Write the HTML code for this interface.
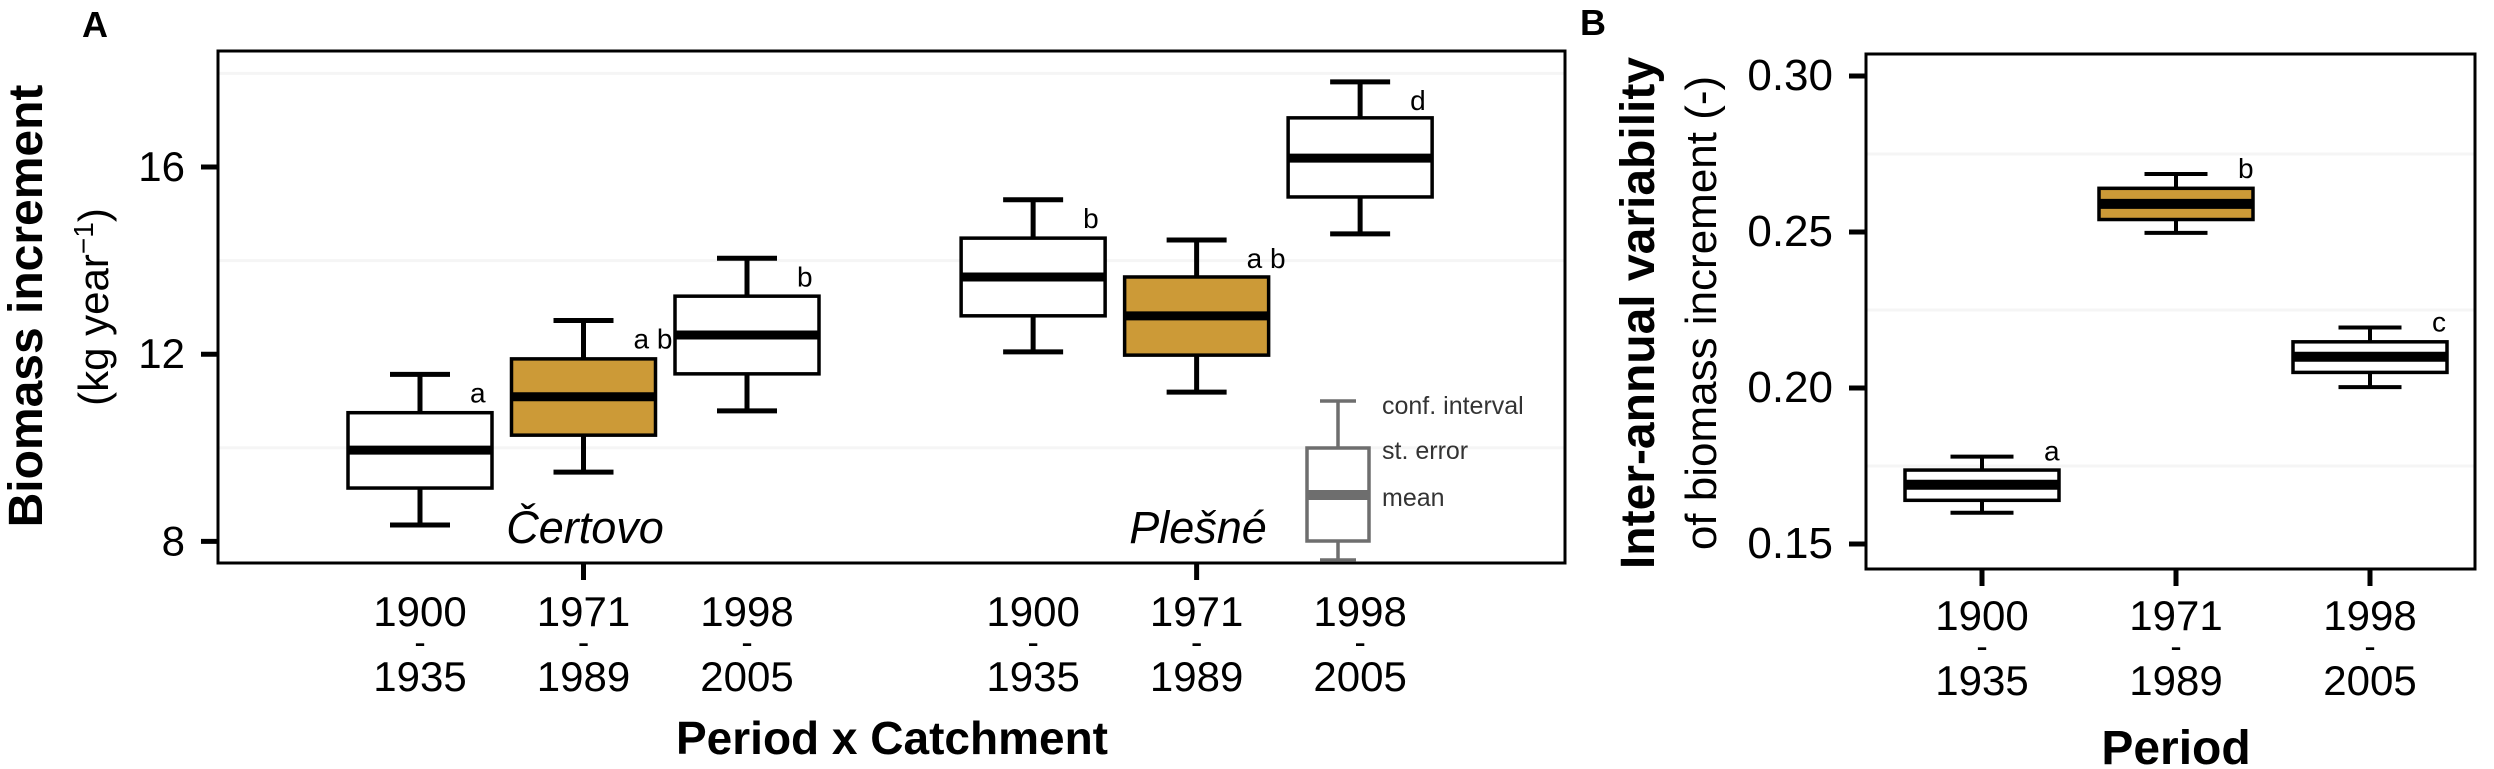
<!DOCTYPE html>
<html><head><meta charset="utf-8"><style>
html,body{margin:0;padding:0;background:#fff;}
svg{display:block;font-family:"Liberation Sans",sans-serif;}
</style></head><body>
<svg id="fig" width="2494" height="769" viewBox="0 0 2494 769" xmlns="http://www.w3.org/2000/svg">
<g id="pa"></g>
<g id="pb"></g>
</svg>
<script>
// Panel A data
const catsA = ["Čertovo 1900-1935","Čertovo 1971-1989","Čertovo 1998-2005","Plešné 1900-1935","Plešné 1971-1989","Plešné 1998-2005"];
const posA = [1, 2, 3, 4.75, 5.75, 6.75];
const loA = [8.35, 9.48, 10.79, 12.05, 11.19, 14.57];
const q1A = [9.14, 10.27, 11.58, 12.82, 11.98, 15.36];
const medA = [9.95, 11.09, 12.41, 13.65, 12.82, 16.19];
const q3A = [10.75, 11.9, 13.24, 14.48, 13.65, 17.05];
const hiA = [11.57, 12.72, 14.05, 15.3, 14.44, 17.82];
const letA = ["a","a b","b","b","a b","d"];
const goldA = [false,true,false,false,true,false];
const yearTopA = ["1900","1971","1998","1900","1971","1998"];
const yearBotA = ["1935","1989","2005","1935","1989","2005"];
const ticksA = [8, 12, 16];
const gridA = [10, 14, 18];
// Panel B data
const catsB = ["1900-1935","1971-1989","1998-2005"];
const loB = [0.160, 0.2497, 0.2003];
const q1B = [0.164, 0.254, 0.205];
const medB = [0.169, 0.259, 0.210];
const q3B = [0.1737, 0.264, 0.2148];
const hiB = [0.178, 0.2686, 0.2194];
const letB = ["a","b","c"];
const goldB = [false,true,false];
const yearTopB = ["1900","1971","1998"];
const yearBotB = ["1935","1989","2005"];
const ticksB = [0.15, 0.20, 0.25, 0.30];
const gridB = [0.175, 0.225, 0.275];

const NS = "http://www.w3.org/2000/svg";
function mk(parent, tag, attrs, text){
  const e = document.createElementNS(NS, tag);
  for (const k in attrs) e.setAttribute(k, attrs[k]);
  if (text !== undefined) e.textContent = text;
  parent.appendChild(e);
  return e;
}
const GOLD = "#cc9a37";

function drawPanel(g, o){
  o.grid.forEach(v=>{
    const l = mk(g,"line",{x1:o.x0,x2:o.x1,y1:o.y(v),y2:o.y(v),stroke:"#f5f5f5","stroke-width":3});
    
    
  });
  o.pos.forEach((p,i)=>{
    const cx = o.x(p);
    const bg = mk(g,"g",{});
    
    
    const hw = o.bw/2, cw = o.cw/2;
    mk(bg,"line",{x1:cx,x2:cx,y1:o.y(o.hi[i]),y2:o.y(o.q3[i]),stroke:"#000","stroke-width":o.ww});
    mk(bg,"line",{x1:cx,x2:cx,y1:o.y(o.q1[i]),y2:o.y(o.lo[i]),stroke:"#000","stroke-width":o.ww});
    mk(bg,"line",{x1:cx-cw,x2:cx+cw,y1:o.y(o.hi[i]),y2:o.y(o.hi[i]),stroke:"#000","stroke-width":o.ww});
    mk(bg,"line",{x1:cx-cw,x2:cx+cw,y1:o.y(o.lo[i]),y2:o.y(o.lo[i]),stroke:"#000","stroke-width":o.ww});
    mk(bg,"rect",{x:cx-hw,y:o.y(o.q3[i]),width:o.bw,height:o.y(o.q1[i])-o.y(o.q3[i]),fill:o.gold[i]?GOLD:"#fff",stroke:"#000","stroke-width":3.5});
    mk(bg,"line",{x1:cx-hw,x2:cx+hw,y1:o.y(o.med[i]),y2:o.y(o.med[i]),stroke:"#000","stroke-width":o.mw});
    const t = mk(g,"text",{x:cx+o.lx,y:o.y(o.hi[i])+o.ly,"font-size":28,fill:"#000"},o.let[i]);
    
    
    const xl = mk(g,"g",{"font-size":42,"text-anchor":"middle"});
    
    
    mk(xl,"text",{x:cx,y:o.x1y},o.yt[i]);
    mk(xl,"text",{x:cx,y:o.x1y+28,"font-size":34},"-");
    mk(xl,"text",{x:cx,y:o.x1y+65},o.yb[i]);
  });
  const fr = mk(g,"rect",{x:o.x0,y:o.y0,width:o.x1-o.x0,height:o.y1-o.y0,fill:"none",stroke:"#000","stroke-width":3});
  
  
  o.ticks.forEach(v=>{
    const tk = mk(g,"line",{x1:o.x0-17,x2:o.x0,y1:o.y(v),y2:o.y(v),stroke:"#000","stroke-width":5});
    
    
    const tl = mk(g,"text",{x:o.x0-33,y:o.y(v)+14,"font-size":o.tfs,"text-anchor":"end"},o.fmt(v));
    
    
  });
  o.xt.forEach(p=>{
    const tk = mk(g,"line",{x1:o.x(p),x2:o.x(p),y1:o.y1,y2:o.y1+17,stroke:"#000","stroke-width":5});
    
    
  });
}

const ga = document.getElementById('pa');
const yA = v => 167 + (16 - v) * 46.8;
const xA = p => 420 + (p - 1) * 163.5;
drawPanel(ga,{x0:218,x1:1565,y0:51,y1:563,y:yA,x:xA,pos:posA,cats:catsA,lo:loA,q1:q1A,med:medA,q3:q3A,hi:hiA,let:letA,gold:goldA,
  yt:yearTopA,yb:yearBotA,ticks:ticksA,grid:gridA,bw:144,cw:60,ww:5,mw:9,lx:50,ly:28,x1y:626,tfs:42,fmt:v=>String(v),xt:[2,5.75]});
const gb = document.getElementById('pb');
const yB = v => 76 + (0.30 - v) * 3120;
const xB = p => 1982 + (p - 1) * 194;
drawPanel(gb,{x0:1866,x1:2475,y0:54,y1:569,y:yB,x:xB,pos:[1,2,3],cats:catsB,lo:loB,q1:q1B,med:medB,q3:q3B,hi:hiB,let:letB,gold:goldB,
  yt:yearTopB,yb:yearBotB,ticks:ticksB,grid:gridB,bw:154,cw:63,ww:4,mw:10,lx:62,ly:4,x1y:630,tfs:44,fmt:v=>v.toFixed(2),xt:[1,2,3]});
</script>
<svg width="2494" height="769" style="position:absolute;left:0;top:0" xmlns="http://www.w3.org/2000/svg" font-family="Liberation Sans, sans-serif">
<text x="82" y="37" font-size="36" font-weight="bold">A</text>
<text x="1580" y="35" font-size="36" font-weight="bold">B</text>
<text transform="translate(42,306) rotate(-90)" text-anchor="middle" font-size="48" font-weight="bold">Biomass increment</text>
<text transform="translate(108,307) rotate(-90)" text-anchor="middle" font-size="42">(kg year<tspan baseline-shift="super" font-size="28">−1</tspan>)</text>
<text x="892" y="754" text-anchor="middle" font-size="46" font-weight="bold">Period x Catchment</text>
<text x="585" y="543" text-anchor="middle" font-size="45" font-style="italic">Čertovo</text>
<text x="1198" y="543" text-anchor="middle" font-size="45" font-style="italic">Plešné</text>
<g stroke="#6e6e6e">
<line x1="1338" x2="1338" y1="401" y2="448" stroke-width="3.5"/>
<line x1="1338" x2="1338" y1="541" y2="560" stroke-width="3.5"/>
<line x1="1320" x2="1356" y1="401" y2="401" stroke-width="3.5"/>
<line x1="1320" x2="1356" y1="560" y2="560" stroke-width="3.5"/>
<rect x="1307" y="448" width="62" height="93" fill="#fff" stroke-width="3.5"/>
<line x1="1307" x2="1369" y1="495" y2="495" stroke-width="10"/>
</g>
<g font-size="25" fill="#333">
<text x="1382" y="414">conf. interval</text>
<text x="1382" y="459">st. error</text>
<text x="1382" y="506">mean</text>
</g>
<text transform="translate(1654,313) rotate(-90)" text-anchor="middle" font-size="48" font-weight="bold">Inter-annual variability</text>
<text transform="translate(1716,313) rotate(-90)" text-anchor="middle" font-size="44">of biomass increment (-)</text>
<text x="2176" y="764" text-anchor="middle" font-size="48" font-weight="bold">Period</text>
</svg>
</body></html>
